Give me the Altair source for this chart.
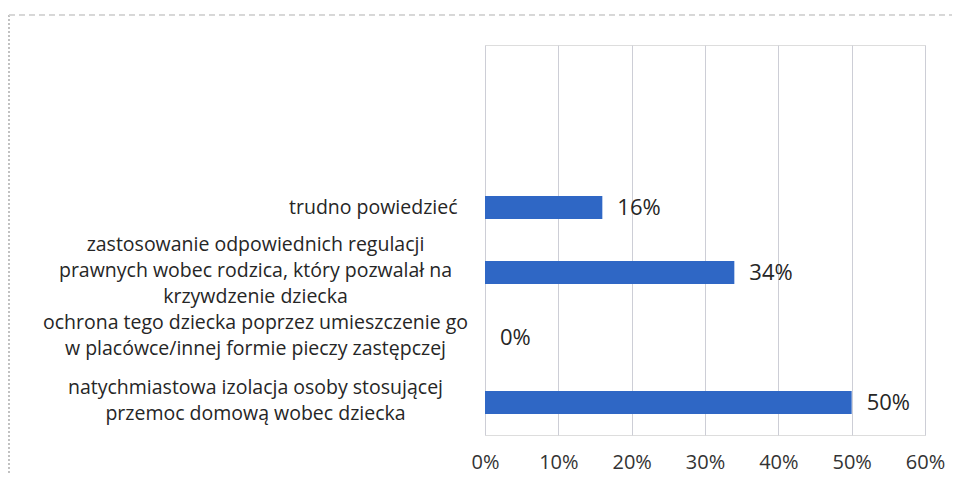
import altair as alt
import pandas as pd

categories = [
    "trudno powiedzieć",
    "zastosowanie odpowiednich regulacji|prawnych wobec rodzica, który pozwalał na|krzywdzenie dziecka",
    "ochrona tego dziecka poprzez umieszczenie go|w placówce/innej formie pieczy zastępczej",
    "natychmiastowa izolacja osoby stosującej|przemoc domową wobec dziecka",
]
values = [0.16, 0.34, 0.0, 0.50]
blank_slots = ["", " "]
x_ticks = [0.0, 0.1, 0.2, 0.3, 0.4, 0.5, 0.6]

df = pd.DataFrame({"cat": categories, "val": values})
domain = blank_slots + categories

FONT = "Open Sans"
TEXT = "#262626"
BLUE = "#2F67C5"

n_lines = "length(split(datum.value, '|'))"

y_enc = alt.Y(
    "cat:N",
    scale=alt.Scale(domain=domain, paddingInner=0, paddingOuter=0),
    axis=alt.Axis(
        title=None,
        ticks=False,
        domain=False,
        grid=False,
        labelExpr="split(datum.value, '|')",
        labelFont=FONT,
        labelFontSize=19.5,
        labelColor=TEXT,
        labelLineHeight=26,
        labelLimit=0,
        labelBaseline="middle",
        labelAlign={"condition": {"test": "indexof(datum.value, '|') < 0", "value": "right"}, "value": "center"},
        labelPadding={"condition": {"test": "indexof(datum.value, '|') < 0", "value": 28}, "value": 230},
        labelOffset={
            "condition": [
                {"test": n_lines + " == 3", "value": -28},
                {"test": n_lines + " == 2", "value": -15},
            ],
            "value": 0,
        },
    ),
)

x_enc = alt.X(
    "val:Q",
    scale=alt.Scale(domain=[0, 0.6], nice=False),
    axis=alt.Axis(
        title=None,
        values=x_ticks,
        format=".0%",
        grid=True,
        gridColor="#CDCED6",
        gridWidth=1,
        ticks=False,
        domain=False,
        labelFlush=False,
        labelFont=FONT,
        labelFontSize=20,
        labelColor="#333333",
        labelPadding=17,
    ),
)

bars = alt.Chart(df).mark_bar(size=23, color=BLUE).encode(x=x_enc, y=y_enc)

labels = alt.Chart(df).mark_text(
    align="left", baseline="middle", dx=15, fontSize=22, font=FONT, color=TEXT
).encode(
    x=alt.X("val:Q"),
    y=alt.Y("cat:N"),
    text=alt.Text("val:Q", format=".0%"),
)

frame_left = alt.Chart(df).mark_rule(color="#BDBDBD", strokeDash=[2, 2], strokeWidth=1).encode(
    x=alt.value(-476), y=alt.value(-30), y2=alt.value(437)
)
frame_top = alt.Chart(df).mark_rule(color="#D5D5D5", strokeDash=[6, 4], strokeWidth=1).encode(
    x=alt.value(-476), x2=alt.value(467), y=alt.value(-30)
)

chart = (
    alt.layer(frame_left, frame_top, bars, labels)
    .properties(
        width=440,
        height=390,
        autosize=alt.AutoSizeParams(type="none"),
        padding={"left": 477, "top": 37, "right": 27, "bottom": 39},
    )
    .configure_view(stroke=None)
    .configure(background="white")
)

chart.save("out.html", embed_options={"renderer": "svg", "actions": False})
